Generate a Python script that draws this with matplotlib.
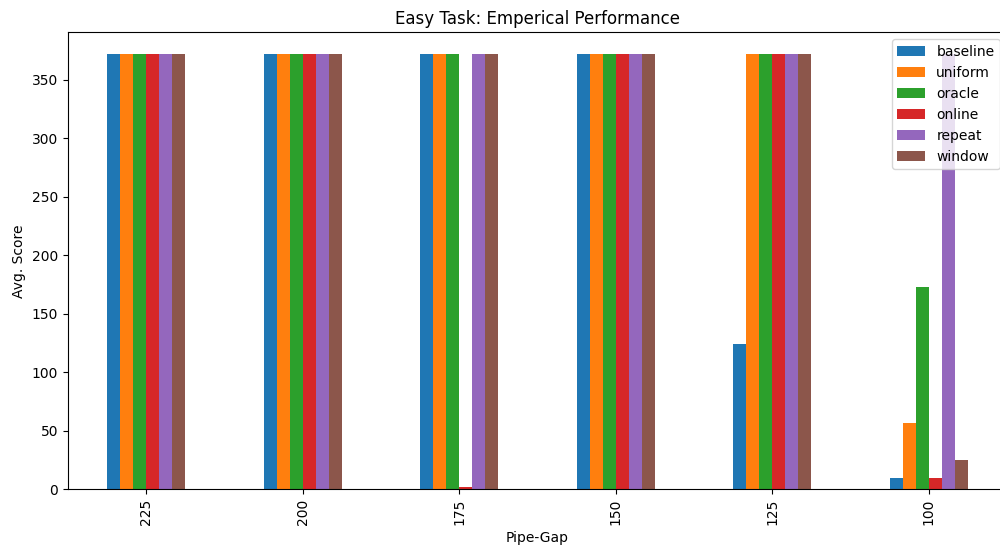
import matplotlib
matplotlib.use("Agg")
import matplotlib.pyplot as plt
import numpy as np

pipe_gaps = ["225", "200", "175", "150", "125", "100"]
series_names = ["baseline", "uniform", "oracle", "online", "repeat", "window"]
baseline = [372, 372, 372, 372, 124, 10]
uniform = [372, 372, 372, 372, 372, 57]
oracle = [372, 372, 372, 372, 372, 173]
online = [372, 372, 2, 372, 372, 10]
repeat = [372, 372, 372, 372, 372, 372]
window = [372, 372, 372, 372, 372, 25]
series_values = [baseline, uniform, oracle, online, repeat, window]
colors = ["#1f77b4", "#ff7f0e", "#2ca02c", "#d62728", "#9467bd", "#8c564b"]

plt.rcParams["font.size"] = 10

fig = plt.figure(figsize=(10, 5.49), dpi=100)
ax = fig.add_axes([0.068, 0.1087, 0.939, 0.8324])

x = np.arange(len(pipe_gaps))
n = len(series_names)
width = 0.5 / n
for i, (name, vals) in enumerate(zip(series_names, series_values)):
    offset = (i - (n - 1) / 2) * width
    ax.bar(x + offset, vals, width, color=colors[i], label=name)

ax.set_xlim(-0.5, len(pipe_gaps) - 0.5)
ax.set_ylim(0, 372 * 1.05)
ax.set_xticks(x)
ax.set_xticklabels(pipe_gaps, rotation=90)
ax.set_xlabel("Pipe-Gap")
ax.set_ylabel("Avg. Score")
ax.set_title("Easy Task: Emperical Performance")
ax.legend(loc="upper right")

fig.savefig("out.png", dpi=100)
